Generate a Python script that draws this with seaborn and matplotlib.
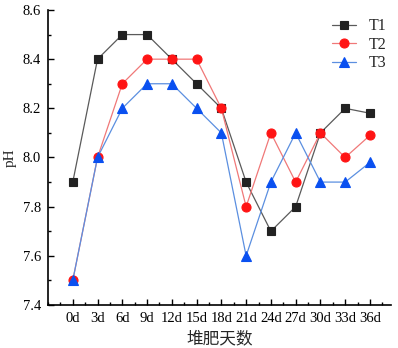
import numpy as np
import pandas as pd
import matplotlib
matplotlib.use("Agg")
import matplotlib.pyplot as plt
from matplotlib.ticker import MultipleLocator
import seaborn as sns

days = ["0d", "3d", "6d", "9d", "12d", "15d", "18d", "21d", "24d", "27d", "30d", "33d", "36d"]
t1 = [7.9, 8.4, 8.5, 8.5, 8.4, 8.3, 8.2, 7.9, 7.7, 7.8, 8.1, 8.2, 8.18]
t2 = [7.5, 8.0, 8.3, 8.4, 8.4, 8.4, 8.2, 7.8, 8.1, 7.9, 8.1, 8.0, 8.09]
t3 = [7.5, 8.0, 8.2, 8.3, 8.3, 8.2, 8.1, 7.6, 7.9, 8.1, 7.9, 7.9, 7.98]
series_names = ["T1", "T2", "T3"]

sns.set_theme(style="white")
plt.rcParams['font.family'] = ['Liberation Serif', 'Noto Sans CJK SC']

fig = plt.figure(figsize=(3.98, 3.48), dpi=100)
ax = fig.add_axes([48/398, 1-305/348, (391-48)/398, (305-10)/348])

idx = np.arange(len(days))
styles = [
    dict(color="#5a5a5a", marker="s", markerfacecolor="#222222", markeredgecolor="#222222", ms=6),
    dict(color="#f07878", marker="o", markerfacecolor="#ff1414", markeredgecolor="#ff1414", ms=6.5),
    dict(color="#5b8fe0", marker="^", markerfacecolor="#0a50f0", markeredgecolor="#0a50f0", ms=7),
]
for name, vals, st in zip(series_names, [t1, t2, t3], styles):
    df = pd.DataFrame({"x": idx, "y": vals})
    sns.lineplot(data=df, x="x", y="y", ax=ax, label=name, lw=0.9,
                 color=st["color"], marker=st["marker"], markersize=st["ms"],
                 markerfacecolor=st["markerfacecolor"], markeredgecolor=st["markeredgecolor"],
                 markeredgewidth=0.8)

ax.set_xlim(-1, 12.85)
ax.set_ylim(7.4, 8.6)
ax.set_xticks(idx)
ax.set_xticklabels(days)
ax.xaxis.set_minor_locator(MultipleLocator(0.5))
ax.yaxis.set_major_locator(MultipleLocator(0.2))
ax.yaxis.set_minor_locator(MultipleLocator(0.1))
ax.yaxis.set_major_formatter(matplotlib.ticker.FormatStrFormatter("%.1f"))

for s in ["top", "right"]:
    ax.spines[s].set_visible(False)
for s in ["left", "bottom"]:
    ax.spines[s].set_color("black")
    ax.spines[s].set_linewidth(1.2)

ax.tick_params(which="major", direction="in", length=4, width=1, colors="black",
               labelsize=10.5, pad=5)
ax.tick_params(which="minor", direction="in", length=2.5, width=1, colors="black")
ax.tick_params(axis="x", which="both", bottom=True)
ax.tick_params(axis="y", which="both", left=True)

ax.set_xlabel("堆肥天数", fontsize=12, family=['Noto Sans CJK SC'], labelpad=4)
ax.set_ylabel("pH", fontsize=11, labelpad=4)

leg = ax.legend(loc="upper right", frameon=False, fontsize=11.5, handlelength=1.5,
                handletextpad=0.8, labelspacing=0.15, bbox_to_anchor=(1.03, 1.02))

fig.savefig("out.png", dpi=100)
